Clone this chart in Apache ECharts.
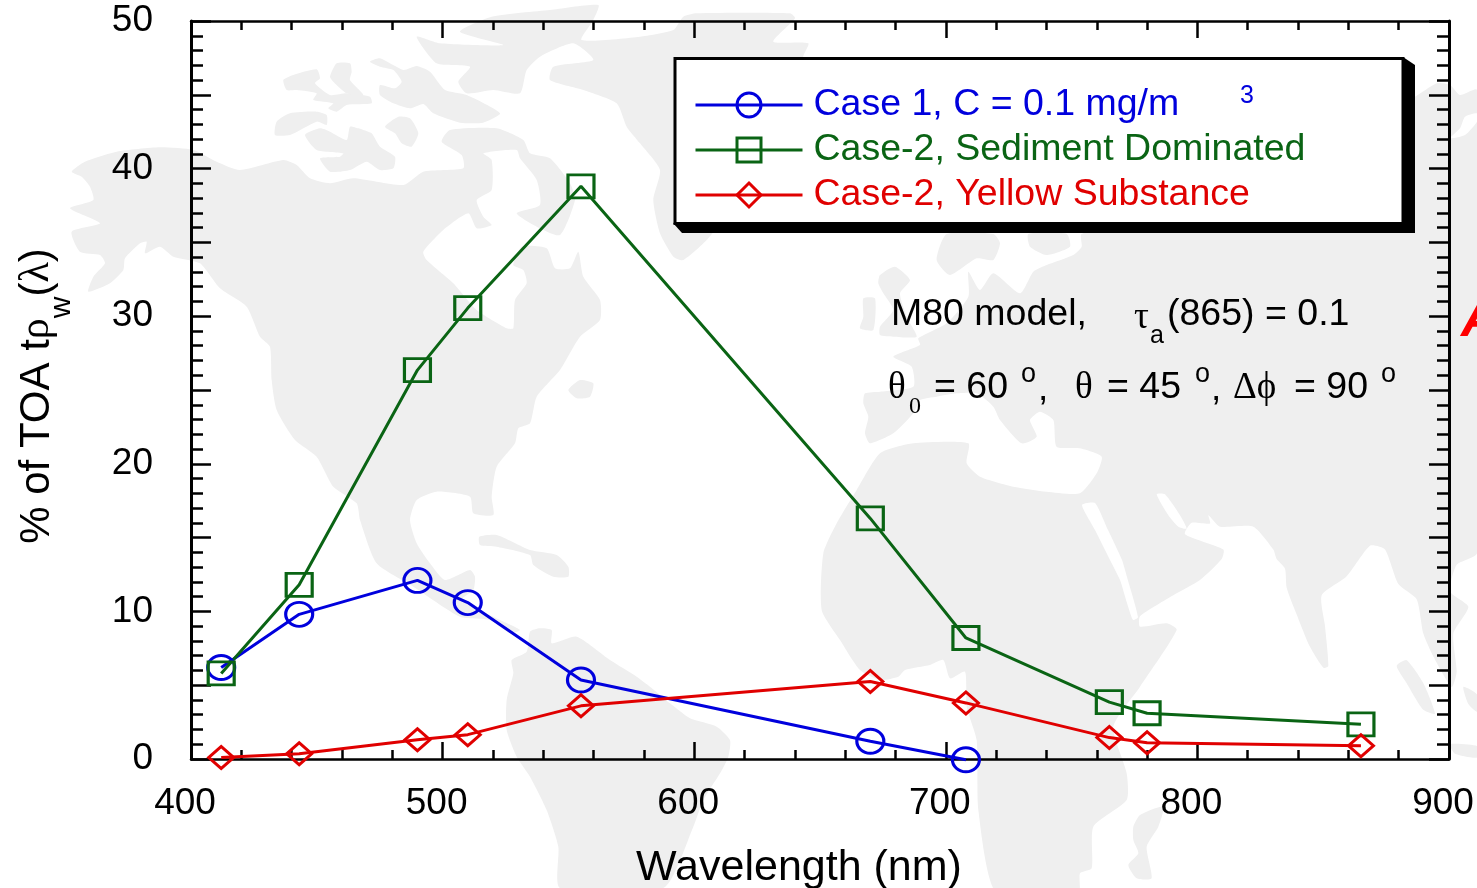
<!DOCTYPE html>
<html><head><meta charset="utf-8">
<style>html,body{margin:0;padding:0;background:#fff}#c{width:1477px;height:888px}</style>
<script src="https://cdn.jsdelivr.net/npm/echarts@6/dist/echarts.min.js"></script>
</head><body><div id="c"></div>
<script>
const wavelengths=[412,443,490,510,555,670,708,765,780,865];
const case1Values=[6.2,9.8,12.1,10.6,5.35,1.2,-0.05];
const sedimentValues=[5.8,11.8,26.35,30.55,38.8,16.3,8.2,3.85,3.1,2.35];
const yellowValues=[0.1,0.35,1.3,1.65,3.6,5.25,3.8,1.45,1.1,0.9];
const seriesNames=['Case 1, C = 0.1 mg/m','Case-2, Sediment Dominated','Case-2, Yellow Substance'];
const xTicks=[400,500,600,700,800,900];
const yTicks=[0,10,20,30,40,50];
const BLUE='#0000dd',GREEN='#0a6414',RED='#e00000',LAND='#efefef';

const pairs=a=>a.map((v,i)=>[wavelengths[i],v]);
const T=(x0,y0,sx,sy,p)=>{const o=[];for(let i=0;i<p.length;i+=2)o.push([x0+p[i]/sx,y0+p[i+1]/sy]);return o;};
const z5=p=>T(150,0,3,3,p),z6=p=>T(60,120,3,3,p),z7=p=>T(430,480,3,3,p),z8=p=>T(540,0,3,3,p),
      z9=p=>T(780,230,3,3,p),z10=p=>T(780,560,3,3,p),z11=p=>T(1140,0,3,3,p),z12=p=>T(1140,290,3,2.62,p);
const landShapes=[
 z6([35,155,75,125,170,95,300,82,400,90,470,125,540,150,670,120,710,135,750,175,810,190,880,175,1030,195,1090,155,1210,145,1205,105,1145,65,1170,30,1310,25,1390,60,1410,100,1470,115,1530,190,1545,240,1500,345,1430,320,1370,280,1440,255,1430,180,1380,115,1370,90,1270,100,1295,120,1295,210,1250,240,1270,290,1295,315,1250,325,1225,280,1150,330,1090,395,1100,420,1180,490,1250,570,1340,625,1360,625,1365,540,1400,490,1390,450,1360,435,1385,380,1460,385,1485,445,1530,445,1555,395,1570,470,1620,540,1620,600,1560,650,1500,750,1430,830,1410,910,1375,925,1365,970,1310,1040,1295,1130,1300,1185,1240,1180,1230,1130,1130,1115,1070,1140,1050,1200,1070,1270,1110,1330,1155,1380,1230,1350,1245,1370,1240,1410,1205,1440,1320,1500,1380,1530,1350,1540,1290,1500,1200,1490,1060,1400,950,1330,900,1200,890,1150,820,1100,770,1010,705,960,650,870,635,780,630,680,600,650,560,560,480,505,420,430,340,410,300,380,255,400,260,365,240,370,195,415,190,450,150,490,85,515,100,470,135,430,120,405,60,395,35,335,120,310,30,265,100,240,90,200,65,170]),
 z6([1525,810,1560,780,1600,790,1590,830,1550,835]),
 z8([125,120,300,110,400,90,430,50,470,40,750,40,765,55,700,125,805,130,790,175,900,300,600,600,500,720,430,780,400,770,360,700,340,600,360,510,300,430,260,380,230,310,130,270,30,240,40,200,160,180,100,130,0,170]).concat(z5([1130,210,1110,280,1030,270,950,280,925,245,960,200,860,190,800,110,870,130,1060,135,930,95,1025,50,1200,30])).concat(z8([175,15,160,60])),
 z5([400,240,430,225,500,208,510,235,495,250,540,285,590,280,660,290,665,310,590,315,560,335,535,325,550,310,490,300,500,280,440,270,410,270]),
 z5([540,230,560,190,600,190,605,215,600,240,640,285,590,280,550,245]),
 z5([660,185,690,175,760,210,800,198,840,215,885,270,950,285,1050,340,1000,368,930,368,850,340,820,312,780,325,730,310,690,285,690,255,735,265,755,245,730,210,690,200]),
 z5([375,405,380,365,420,340,500,335,530,345,530,375,500,365,420,405]),
 z5([465,405,510,385,540,395,590,420,600,380,625,385,640,390,665,400,690,440,735,470,730,505,690,510,650,485,600,510,540,515,510,475,570,470,580,460,500,450]),
 z5([705,380,745,350,780,355,805,400,785,440,755,430,735,400]),
 z7([148,170,200,165,300,210,380,225,415,260,415,290,370,290,310,255,300,225,200,200,150,195]),
 z7([290,515,300,455,330,445,365,450,365,490,440,470,540,540,620,590,660,620,720,670,780,715,860,740,900,780,895,830,870,880,820,960,790,1040,700,1224,390,1224,385,1100,350,990,300,890,260,830,230,750,230,660,250,580,245,540]),
 z9([500,12,470,90,510,135,590,85,640,90,660,40,640,12]),
 z9([745,12,860,12,870,50,800,75,750,50]),
 z9([250,205,285,205,280,300,240,295,250,260]),
 z9([300,135,345,110,390,150,360,190,380,260,410,320,340,320,300,315,300,290,340,240,310,190,295,160]),
 z9([905,12]).concat([[1300,150]],z11([825,290,890,250,930,255,960,285,1011,270]),[[1477,553]],
   z12([950,720,930,790,985,830,940,900,950,1000,935,1040,880,960,850,900,830,810,775,770,735,680,690,670,620,750,545,800,555,880,565,985,550,990,510,935,470,850,440,780,435,730,410,705,400,680,340,620,240,620,205,590,210,612,155,610,135,640,250,680,245,705,180,760,100,800,0,855]),
   z10([1080,200,1160,190,1190,210,1080,380,1000,500,1040,640,1040,720,940,800,935,925,900,940,895,1000,650,1000,595,750,590,540,560,440,555,335,510,355,490,300,450,315,375,330,355,350,300,360,240,330,180,240,125,150]),
   z9([130,970,170,880,230,780,300,670,400,640,565,640,560,700,600,740,700,770,800,785,900,790,950,730,965,680,900,655,830,650,820,570,780,545,750,570,770,620,725,640,660,570,640,530,590,490,530,490,470,500,420,510,400,550,340,610,270,640,255,610,265,560,250,520,255,490,300,485,400,470,395,410,340,380,420,345,415,325,500,280,565,200,565,125,600,180,640,130,720,190,760,125,800,105,880,75,905,50])),
 z10([1060,800,1080,765,1150,740,1135,800,1100,860,1115,955,1070,955,1045,915,1075,880,1060,840]),
 z12([770,985,800,970,850,1030,885,1110,850,1100,800,1030]),
 z12([930,1190,1011,1195,1011,1225,945,1215]),
 z12([970,1040,1011,1060,1011,1105,985,1085])
];
const seaShapes=[
 [[1082,505],[1095,503],[1108,530],[1122,560],[1127,577],[1138,617],[1133,620],[1127,603],[1120,580],[1110,560],[1095,530]],
 z12([50,535,75,535,120,590,140,625,115,620,85,590]),
 z11([930,415,975,405,1011,365,1011,340,975,350,960,385])
];
const shapeEls=(list,fill,z)=>list.map(points=>({type:'polygon',silent:true,z,shape:{points,smooth:0.2},style:{fill}}));

const txt=(text,x,y,fontSize,extra)=>({type:'text',z:6,x,y,silent:true,style:Object.assign({text,fontSize,fontFamily:'Liberation Sans',fill:'#000',verticalAlign:'middle'},extra||{})});
const SERIF={fontFamily:'Liberation Serif'};

const mkX=(position,show)=>({type:'value',position,min:400,max:900,interval:100,
  axisLine:{show:true,onZero:false,lineStyle:{color:'#000',width:2.5}},
  axisTick:{show:true,inside:true,length:17,lineStyle:{color:'#000',width:2.5}},
  minorTick:{show:true,splitNumber:5,length:9,lineStyle:{color:'#000',width:2.5}},
  splitLine:{show:false},
  axisLabel:{show,fontSize:37,color:'#000',fontFamily:'Liberation Sans',margin:26,padding:[0,12,0,0],
    formatter:v=>xTicks.includes(v)?String(v):''},
  name:show?'Wavelength (nm)':'',nameLocation:'middle',nameGap:88,
  nameTextStyle:{fontSize:43,color:'#000',fontFamily:'Liberation Sans',padding:[0,42,0,0]}});
const mkY=(position,show)=>({type:'value',position,min:0,max:50,interval:5,
  axisLine:{show:true,onZero:false,lineStyle:{color:'#000',width:3}},
  axisTick:{show:true,inside:true,length:20,lineStyle:{color:'#000',width:2.5}},
  minorTick:{show:true,splitNumber:5,length:12,lineStyle:{color:'#000',width:2.5}},
  splitLine:{show:false},
  axisLabel:{show,fontSize:37,color:'#000',fontFamily:'Liberation Sans',margin:38,padding:[3,0,0,0],
    formatter:v=>yTicks.includes(v)?String(v):''},
  name:show?'{m|% of TOA t}{g|ρ}{s|w}{m|(}{g|λ}{m|)}':'',nameLocation:'middle',nameRotate:90,nameGap:114,
  nameTextStyle:{padding:[0,12,0,0],rich:{
    m:{fontSize:42,lineHeight:80,color:'#000',fontFamily:'Liberation Sans',verticalAlign:'middle'},
    g:{fontSize:42,lineHeight:80,color:'#000',fontFamily:'Liberation Serif',verticalAlign:'middle'},
    s:{fontSize:30,lineHeight:30,color:'#000',fontFamily:'Liberation Sans',verticalAlign:'bottom'}}}});
const mkS=(name,vals,color,symbol,size)=>({type:'line',name,data:pairs(vals),symbol,symbolSize:size,showSymbol:true,showAllSymbol:true,clip:false,
  lineStyle:{color,width:3},itemStyle:{color:'rgba(255,255,255,0)',borderColor:color,borderWidth:3},
  emphasis:{disabled:true},smooth:false});

const chart=echarts.init(document.getElementById('c'),null,{renderer:'canvas'});
chart.setOption({
  animation:false,backgroundColor:'#fff',
  grid:{left:191,right:28,top:21,bottom:129,containLabel:false,outerBoundsMode:'none'},
  xAxis:[mkX('bottom',true),mkX('top',false)],
  yAxis:[mkY('left',true),mkY('right',false)],
  legend:{show:true,orient:'vertical',left:694,top:86,z:5,itemWidth:107,itemHeight:30,itemGap:7,selectedMode:false,padding:0,
    lineStyle:{width:3},itemStyle:{borderWidth:3},
    data:[{name:seriesNames[0],textStyle:{color:BLUE}},{name:seriesNames[1],textStyle:{color:GREEN}},{name:seriesNames[2],textStyle:{color:RED}}],
    textStyle:{fontSize:37.5,fontFamily:'Liberation Sans',padding:[0,0,0,6]}},
  series:[mkS(seriesNames[0],case1Values,BLUE,'circle',[27,24]),mkS(seriesNames[1],sedimentValues,GREEN,'rect',[26,23]),mkS(seriesNames[2],yellowValues,RED,'diamond',[25,22])],
  graphic:{elements:[
    ...shapeEls(landShapes,LAND,-10),...shapeEls(seaShapes,'#fff',-9),
    {type:'polygon',silent:true,z:3,shape:{points:[[1403,57],[1415,65],[1415,233],[682,233],[673,223]]},style:{fill:'#000'}},
    {type:'rect',silent:true,z:3,shape:{x:675,y:58.5,width:728,height:165},style:{fill:'#fff',stroke:'#000',lineWidth:3}},
    txt('3',1240,96,25,{fill:BLUE}),
    txt('M80 model,',891,315,37.5),
    txt('τ',1134,318,37,SERIF),txt('a',1150,336,25),txt('(865) = 0.1',1167,315,37.5),
    txt('θ',888,388,37,SERIF),txt('0',909,407,24,SERIF),txt('= 60',934,388,37.5),txt('o',1021,375,27),txt(',',1038,390,37),
    txt('θ',1075,388,37,SERIF),txt('= 45',1107,388,37.5),txt('o',1195,375,27),txt(',',1211,390,37),
    txt('Δϕ',1233,388,37,SERIF),txt('= 90',1294,388,37.5),txt('o',1381,375,27),
    {type:'text',silent:true,z:6,x:1461,y:321,style:{text:'A',fontSize:53,fontWeight:'bold',fontStyle:'italic',fontFamily:'Liberation Sans',fill:'#ff0000',verticalAlign:'middle'}}
  ]}
});
</script></body></html>
